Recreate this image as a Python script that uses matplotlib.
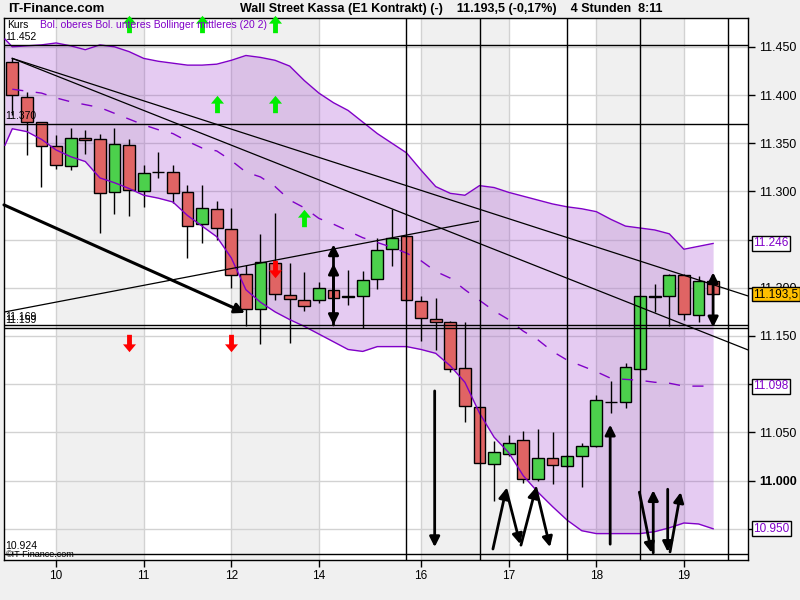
import matplotlib
matplotlib.use('Agg')
import matplotlib.pyplot as plt
from matplotlib.path import Path

# 4-hour candles, Wall Street Kassa
opens = [11434, 11398, 11372, 11347, 11326, 11355, 11354, 11299, 11348, 11300,
         11320, 11320, 11299, 11266, 11282, 11261, 11214, 11178, 11226, 11193,
         11187, 11187, 11198, 11190, 11192, 11209, 11240, 11254, 11186, 11168,
         11165, 11117, 11076, 11017, 11028, 11042, 11002, 11023, 11015, 11026,
         11036, 11082, 11082, 11116, 11192, 11191, 11213, 11172, 11207]
highs = [11438, 11403, 11372, 11358, 11366, 11364, 11360, 11366, 11354, 11327,
         11341, 11327, 11307, 11307, 11290, 11283, 11224, 11256, 11278, 11226,
         11216, 11206, 11201, 11218, 11217, 11252, 11282, 11255, 11192, 11189,
         11166, 11165, 11076, 11041, 11047, 11051, 11053, 11050, 11027, 11039,
         11089, 11103, 11122, 11192, 11204, 11214, 11214, 11212, 11207]
lows = [11379, 11338, 11305, 11323, 11322, 11339, 11257, 11277, 11274, 11284,
        11314, 11288, 11231, 11246, 11250, 11200, 11160, 11142, 11187, 11143,
        11176, 11184, 11187, 11182, 11158, 11199, 11223, 11186, 11145, 11135,
        11113, 11061, 11018, 10979, 11026, 10998, 11000, 10996, 11014, 10993,
        11035, 11070, 11075, 11116, 11175, 11160, 11167, 11165, 11193]
closes = [11400, 11372, 11347, 11327, 11355, 11353, 11298, 11349, 11301, 11319,
          11320, 11298, 11264, 11283, 11262, 11213, 11178, 11227, 11194, 11188,
          11181, 11200, 11189, 11192, 11208, 11239, 11252, 11187, 11169, 11165,
          11116, 11077, 11018, 11030, 11039, 11002, 11023, 11016, 11025, 11036,
          11084, 11082, 11118, 11191, 11190, 11213, 11173, 11207, 11193.5]

day_ticks = [3, 9, 15, 21, 28, 34, 40, 46]
day_labels = ['10', '11', '12', '14', '16', '17', '18', '19']

# Bollinger (20, 2)
band_x = [-0.5] + list(range(49))
upper = [11458, 11450, 11451, 11452, 11454, 11451, 11447, 11452, 11450, 11445,
         11438, 11435, 11433, 11431, 11431, 11432, 11436, 11441, 11439, 11436,
         11430, 11415, 11402, 11392, 11384, 11372, 11360, 11350, 11340, 11322,
         11305, 11298, 11296, 11306, 11304, 11299, 11295, 11291, 11287, 11284,
         11282, 11279, 11271, 11264, 11262, 11260, 11256, 11240, 11243, 11246]
lower = [11348, 11365, 11362, 11354, 11343, 11336, 11331, 11314, 11309, 11303,
         11296, 11293, 11289, 11275, 11264, 11253, 11231, 11198, 11185, 11175,
         11167, 11160, 11152, 11144, 11136, 11134, 11139, 11139, 11139, 11136,
         11132, 11119, 11102, 11070, 11045, 11029, 11005, 10988, 10973, 10959,
         10948, 10945, 10945, 10945, 10945, 10947, 10951, 10956, 10955, 10950]
middle = [11406, 11404, 11402, 11397, 11393, 11390, 11387, 11381, 11375, 11369,
          11364, 11360, 11352, 11345, 11342, 11332, 11320, 11315, 11305, 11291,
          11283, 11272, 11266, 11259, 11252, 11247, 11242, 11236, 11228, 11217,
          11210, 11198, 11187, 11176, 11167, 11155, 11146, 11134, 11125, 11119,
          11113, 11106, 11105, 11104, 11102, 11101, 11098, 11098, 11098]

level_values = [11452, 11370, 11161, 11158, 10924]
level_labels = ['11.452', '11.370', '11.169', '11.159', '10.924']
vline_pos = [27, 32, 38, 43, 49]

# thin trend lines (x0, y0, x1, y1)
trend_lines = [(0, 11438, 50.4, 11191.5),
               (0, 11438, 50.4, 11135.5),
               (-0.5, 11175, 31.92, 11269)]
thick_line = (-0.57, 11286, 15.94, 11174)

# black arrows: (x_from, y_from, x_to, y_to, style)
arrows = [(22, 11161.4, 22, 11245, '<|-|>'),
          (22, 11161.4, 22, 11225, '-|>'),
          (48, 11159, 48, 11216, '<|-|>'),
          (28.93, 11093, 28.93, 10931, '-|>'),
          (40.95, 10934, 40.95, 11058, '-|>'),
          (32.92, 10929, 33.84, 10992, '-|>'),
          (33.84, 10990, 34.79, 10934, '-|>'),
          (34.84, 10933, 35.87, 10993, '-|>'),
          (35.87, 10992, 36.83, 10931, '-|>'),
          (42.95, 10988, 43.79, 10925, '-|>'),
          (43.9, 10925, 43.9, 10990, '-|>'),
          (44.89, 10991, 44.89, 10926, '-|>'),
          (45.05, 10926, 45.78, 10988, '-|>')]

buy_x = [8, 13, 18, 14, 18, 20]
buy_y = [11474, 11474, 11474, 11391, 11391, 11272]
sell_x = [8, 15, 18]
sell_y = [11143, 11143, 11219]

value_boxes = [(11246, '11.246', '#8000c8', 'white'),
               (11193.5, '11.193,5', 'black', '#ffc000'),
               (11098, '11.098', '#8000c8', 'white'),
               (10950, '10.950', '#8000c8', 'white')]

plt.rcParams['font.family'] = ['Liberation Sans', 'DejaVu Sans']

fig = plt.figure(figsize=(8, 6), dpi=100, facecolor='#f0f0f0')
ax = fig.add_axes([4 / 800, 40 / 600, 744 / 800, 542 / 600])
ax.set_facecolor('white')
ax.set_xlim(-0.568, 50.39)
ax.set_ylim(10917.6, 11479.9)

# alternating day bands
for a, b in [(3, 9), (15, 21), (28, 34), (40, 46)]:
    ax.axvspan(a, b, color='#f0f0f0', lw=0, zorder=0)

# grid
for v in range(10950, 11451, 50):
    ax.axhline(v, color='#d2d2d2', lw=1, zorder=0.5)
for t in day_ticks:
    ax.axvline(t, color='#d2d2d2', lw=1, zorder=0.5)

# Bollinger band
ax.fill_between(band_x, lower, upper, color='#9933cc', alpha=0.25, lw=0, zorder=1)

# candles
for i in range(len(opens)):
    o, h, l, c = opens[i], highs[i], lows[i], closes[i]
    ax.vlines(i, l, h, color='black', lw=1, zorder=4)
    if c == o:
        ax.hlines(o, i - 0.4, i + 0.4, color='black', lw=1, zorder=5)
    else:
        col = '#4cd04c' if c > o else '#e06464'
        ax.bar(i, abs(c - o), bottom=min(o, c), width=0.8, color=col,
               edgecolor='black', lw=1, zorder=5)

ax.plot(band_x, upper, color='#8000c8', lw=1, zorder=6)
ax.plot(band_x, lower, color='#8000c8', lw=1, zorder=6)
ax.plot(range(len(middle)), middle, color='#8000c8', lw=1,
        linestyle=(0, (8, 9)), zorder=6)

# horizontal levels
for v, lab in zip(level_values, level_labels):
    ax.axhline(v, color='black', lw=1, zorder=7)
    ax.text(0.002, v + 3, lab, transform=ax.get_yaxis_transform(),
            fontsize=7.5, va='bottom', ha='left', zorder=8)

for p in vline_pos:
    ax.axvline(p, color='black', lw=1, zorder=7)

for x0, y0, x1, y1 in trend_lines:
    ax.plot([x0, x1], [y0, y1], color='black', lw=0.9, zorder=7)

ax.annotate('', xy=(thick_line[2], thick_line[3]), xytext=(thick_line[0], thick_line[1]),
            arrowprops=dict(arrowstyle='-|>', color='black', lw=2.2,
                            mutation_scale=15, shrinkA=0, shrinkB=0), zorder=8)

for x0, y0, x1, y1, st in arrows:
    ax.annotate('', xy=(x1, y1), xytext=(x0, y0),
                arrowprops=dict(arrowstyle=st, color='black', lw=2,
                                mutation_scale=15, shrinkA=0, shrinkB=0), zorder=8)

# signal icons
up_arrow = Path([(0, 1), (-0.75, 0.1), (-0.28, 0.1), (-0.28, -1), (0.28, -1),
                 (0.28, 0.1), (0.75, 0.1), (0, 1)])
down_arrow = Path([(x, -y) for x, y in up_arrow.vertices])
ax.plot(buy_x, buy_y, linestyle='none', marker=up_arrow, markersize=12.5,
        color='#00ee00', markeredgewidth=0, zorder=9, clip_on=False)
ax.plot(sell_x, sell_y, linestyle='none', marker=down_arrow, markersize=12.5,
        color='#ff0000', markeredgewidth=0, zorder=9, clip_on=False)

# axes styling
for s in ax.spines.values():
    s.set_color('black')
    s.set_linewidth(1)
ax.yaxis.tick_right()
yt = list(range(10950, 11451, 50))
hidden = {10950, 11100, 11250}   # covered by the value boxes
ax.set_yticks(yt)
ax.set_yticklabels(['' if v in hidden else f'{v / 1000:.3f}' for v in yt])
for lab, v in zip(ax.get_yticklabels(), yt):
    if v == 11000:
        lab.set_fontweight('bold')
ax.tick_params(axis='y', direction='out', length=5, width=1, labelsize=9,
               pad=3, colors='black')
ax.set_xticks(day_ticks)
ax.set_xticklabels(day_labels)
ax.tick_params(axis='x', direction='out', length=5, width=1, labelsize=8.5, pad=2)

for v, lab, tc, bc in value_boxes:
    ax.text(1.007, v, lab, transform=ax.get_yaxis_transform(), fontsize=8.5,
            color=tc, va='center', ha='left', zorder=10,
            bbox=dict(boxstyle='square,pad=0.12', fc=bc, ec='black', lw=1))

# texts
ax.text(0.004, 0.988, 'Kurs', transform=ax.transAxes, fontsize=7.5, va='center', zorder=10)
ax.text(0.048, 0.988, 'Bol. oberes Bol. unteres Bollinger mittleres (20 2)',
        transform=ax.transAxes, fontsize=7.5, va='center', color='#8000c8', zorder=10)
ax.text(0.002, 0.001, '\u00a9IT-Finance.com', transform=ax.transAxes, fontsize=6.5,
        va='bottom', zorder=10)
fig.text(8 / 800, 1 - 9 / 600, 'IT-Finance.com', fontsize=9.5, fontweight='bold', va='center')
fig.text(240 / 800, 1 - 9 / 600,
         'Wall Street Kassa (E1 Kontrakt) (-)    11.193,5 (-0,17%)    4 Stunden  8:11',
         fontsize=9, fontweight='bold', va='center')

fig.savefig('out.png', dpi=100, facecolor=fig.get_facecolor())
